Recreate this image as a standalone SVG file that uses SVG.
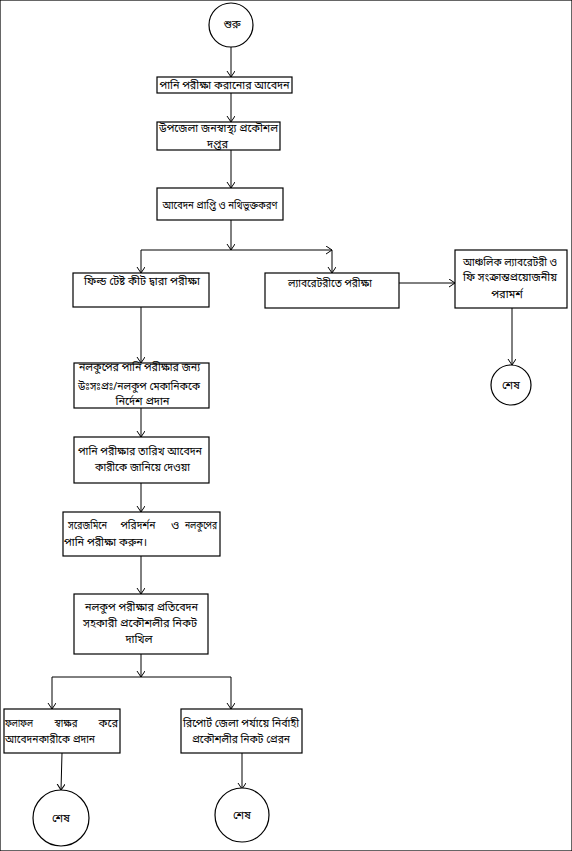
<svg xmlns="http://www.w3.org/2000/svg" width="572" height="851" viewBox="0 0 572 851">
<style>
rect,circle{fill:#fff;stroke:#000;stroke-width:1.2}
.c{fill:none;stroke:#000;stroke-width:1}
text{font-family:"Noto Sans Bengali","Noto Serif Bengali","Lohit Bengali","FreeSerif","Noto Sans",sans-serif;font-size:11px;fill:#000}
.m{text-anchor:middle}
.e{text-anchor:end}
</style>
<defs>
<marker id="a" markerWidth="10" markerHeight="10" refX="6" refY="4" orient="auto" markerUnits="userSpaceOnUse">
<path d="M0,0 L6,4 L0,8" fill="none" stroke="#000" stroke-width="1"/>
</marker>
</defs>
<rect x="0" y="0" width="572" height="851" fill="#fff" stroke="none"/>
<g id="connectors">
<path class="c" d="M231,47 V77" marker-end="url(#a)"/>
<path class="c" d="M231,93 V122" marker-end="url(#a)"/>
<path class="c" d="M231,150 V188" marker-end="url(#a)"/>
<path class="c" d="M231,220 V250" marker-end="url(#a)"/>
<path class="c" d="M141,250 H332" marker-end="url(#a)"/>
<path class="c" d="M141,250 V273" marker-end="url(#a)"/>
<path class="c" d="M332,250 V273" marker-end="url(#a)"/>
<path class="c" d="M399,283 H455" marker-end="url(#a)"/>
<path class="c" d="M512,308 V365" marker-end="url(#a)"/>
<path class="c" d="M141,307 V363" marker-end="url(#a)"/>
<path class="c" d="M141,408 V437" marker-end="url(#a)"/>
<path class="c" d="M141,483 V512" marker-end="url(#a)"/>
<path class="c" d="M141,556 V594" marker-end="url(#a)"/>
<path class="c" d="M141,654 V677" marker-end="url(#a)"/>
<path class="c" d="M52,677 H231"/>
<path class="c" d="M52,677 V709" marker-end="url(#a)"/>
<path class="c" d="M231,677 V709" marker-end="url(#a)"/>
<path class="c" d="M62,753 L61,790" marker-end="url(#a)"/>
<path class="c" d="M242,753 V789" marker-end="url(#a)"/>
</g>
<g id="start">
<circle cx="231" cy="25" r="22"/>
<text class="m" x="232" y="28">শুরু</text>
</g>
<g id="n1">
<rect x="157" y="77" width="135" height="16"/>
<text class="m" x="224.5" y="89" textLength="130" lengthAdjust="spacingAndGlyphs">পানি পরীক্ষা করানোর আবেদন</text>
</g>
<g id="n2">
<rect x="157" y="122" width="123" height="28"/>
<text class="m" x="218.5" y="132" textLength="119" lengthAdjust="spacingAndGlyphs">উপজেলা জনস্বাস্থ্য প্রকৌশল</text>
<text class="m" x="217.5" y="148">দপ্তর</text>
</g>
<g id="n3">
<rect x="157" y="188" width="126" height="32"/>
<text class="m" x="220" y="209" textLength="115" lengthAdjust="spacingAndGlyphs">আবেদন প্রাপ্তি ও নথিভুক্তকরণ</text>
</g>
<g id="n4">
<rect x="73" y="273" width="136" height="34"/>
<text class="m" x="142" y="285" textLength="116" lengthAdjust="spacingAndGlyphs">ফিল্ড টেষ্ট কীট দ্বারা পরীক্ষা</text>
</g>
<g id="n5">
<rect x="265" y="273" width="134" height="35"/>
<text class="m" x="330" y="287" textLength="84" lengthAdjust="spacingAndGlyphs">ল্যাবরেটরীতে পরীক্ষা</text>
</g>
<g id="n6">
<rect x="455" y="250" width="112" height="58"/>
<text class="m" x="510" y="266" textLength="94" lengthAdjust="spacingAndGlyphs">আঞ্চলিক ল্যাবরেটরী ও</text>
<text class="m" x="510" y="281" textLength="94" lengthAdjust="spacingAndGlyphs">ফি সংক্রান্তপ্রয়োজনীয়</text>
<text class="m" x="507" y="298">পরামর্শ</text>
</g>
<g id="end1">
<circle cx="511" cy="385" r="20"/>
<text class="m" x="511" y="389">শেষ</text>
</g>
<g id="n7">
<rect x="74" y="363" width="135" height="45"/>
<text class="m" x="139.5" y="371" textLength="121" lengthAdjust="spacingAndGlyphs">নলকুপের পানি পরীক্ষার জন্য</text>
<text class="m" x="139" y="390" textLength="122" lengthAdjust="spacingAndGlyphs">উঃসঃপ্রঃ/নলকুপ মেকানিককে</text>
<text class="m" x="142.5" y="405">নির্দেশ প্রদান</text>
</g>
<g id="n8">
<rect x="74" y="437" width="135" height="46"/>
<text class="m" x="140" y="455" textLength="124" lengthAdjust="spacingAndGlyphs">পানি পরীক্ষার তারিখ আবেদন</text>
<text class="m" x="142.5" y="471" textLength="95" lengthAdjust="spacingAndGlyphs">কারীকে জানিয়ে দেওয়া</text>
</g>
<g id="n9">
<rect x="63" y="512" width="157" height="44"/>
<text x="68" y="529" textLength="39" lengthAdjust="spacingAndGlyphs">সরেজমিনে</text>
<text class="m" x="138" y="529" textLength="35" lengthAdjust="spacingAndGlyphs">পরিদর্শন</text>
<text class="m" x="175" y="529">ও</text>
<text class="e" x="217" y="529" textLength="32" lengthAdjust="spacingAndGlyphs">নলকুপের</text>
<text x="64" y="546" textLength="83" lengthAdjust="spacingAndGlyphs">পানি পরীক্ষা করুন।</text>
</g>
<g id="n10">
<rect x="74" y="594" width="134" height="60"/>
<text class="m" x="141.5" y="611" textLength="113" lengthAdjust="spacingAndGlyphs">নলকুপ পরীক্ষার প্রতিবেদন</text>
<text class="m" x="140" y="627" textLength="114" lengthAdjust="spacingAndGlyphs">সহকারী প্রকৌশলীর নিকট</text>
<text class="m" x="139" y="643">দাখিল</text>
</g>
<g id="n11">
<rect x="4" y="709" width="116" height="44"/>
<text x="5" y="727" textLength="28" lengthAdjust="spacingAndGlyphs">ফলাফল</text>
<text class="m" x="66" y="727" textLength="23" lengthAdjust="spacingAndGlyphs">স্বাক্ষর</text>
<text class="e" x="118" y="727">করে</text>
<text x="5" y="743" textLength="90" lengthAdjust="spacingAndGlyphs">আবেদনকারীকে প্রদান</text>
</g>
<g id="n12">
<rect x="181" y="709" width="121" height="44"/>
<text class="m" x="241" y="727" textLength="116" lengthAdjust="spacingAndGlyphs">রিপোর্ট জেলা পর্যায়ে নির্বাহী</text>
<text class="m" x="241" y="743" textLength="98" lengthAdjust="spacingAndGlyphs">প্রকৌশলীর নিকট প্রেরন</text>
</g>
<g id="end2">
<circle cx="61" cy="818" r="28"/>
<text class="m" x="61" y="822">শেষ</text>
</g>
<g id="end3">
<circle cx="242" cy="815" r="27"/>
<text class="m" x="242" y="819">শেষ</text>
</g>
</svg>
